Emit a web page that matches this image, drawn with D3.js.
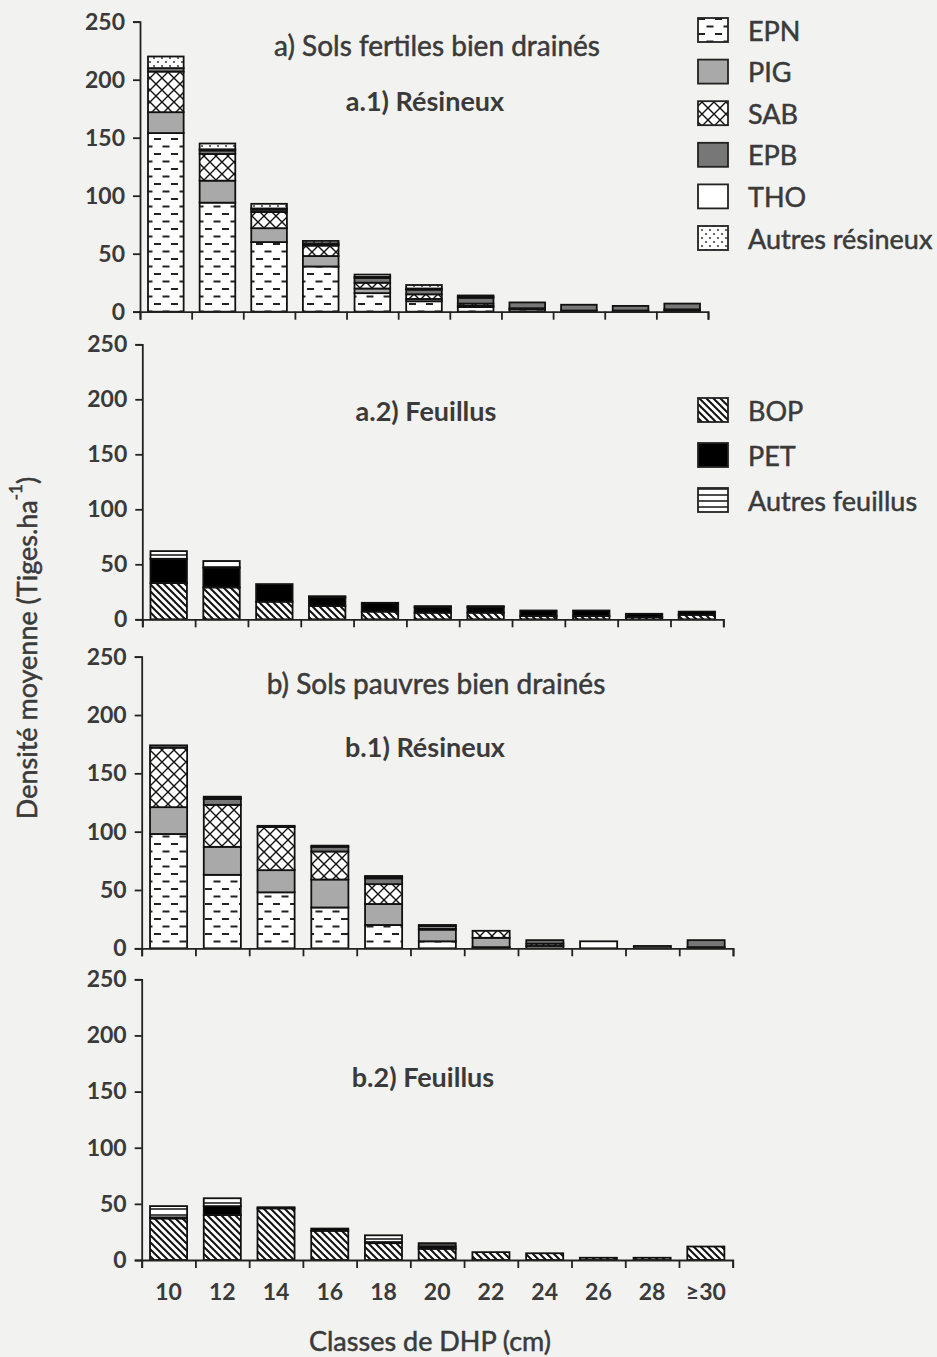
<!DOCTYPE html>
<html>
<head>
<meta charset="utf-8">
<script src="https://cdn.jsdelivr.net/npm/d3@7"></script>
<style>
  body { margin: 0; background: #f2f2f0; }
  svg text { font-family: Lato, "Open Sans", sans-serif; fill: #3a3a3a; }
  .thick { stroke: #3a3a3a; stroke-width: 0.5px; }
</style>
</head>
<body>
<svg id="chart" width="937" height="1357"></svg>
<script>
// DHP classes
var classes = ["10", "12", "14", "16", "18", "20", "22", "24", "26", "28", "≥30"];
var resineux = ["EPN", "PIG", "SAB", "EPB", "THO", "Autres résineux"];
var feuillus = ["BOP", "PET", "Autres feuillus"];
var yTicks = [0, 50, 100, 150, 200, 250];

// a.1) fertile, résineux
var a1_EPN = [154, 94, 60, 39, 16, 9, 4, 2, 1, 1, 1];
var a1_PIG = [18, 19, 12, 9, 4, 2, 1, 0, 0, 0, 0];
var a1_SAB = [35, 23, 14, 9, 5, 4, 2, 1, 0, 0, 1];
var a1_EPB = [3, 3, 2, 1, 4, 4, 5, 5, 5, 4, 5];
var a1_THO = [0, 1, 1, 1, 1, 1, 1, 0, 0, 0, 0];
var a1_AUT = [10, 5, 4, 2, 2, 3, 1, 0, 0, 0, 0];

// a.2) fertile, feuillus
var a2_BOP = [33, 29, 16, 12, 7, 6, 6, 3, 3, 2, 4];
var a2_PET = [22, 18, 16, 8, 8, 5, 5, 5, 5, 3, 3];
var a2_AUT = [7, 6, 0, 1, 0, 1, 1, 0, 0, 0, 0];

// b.1) pauvre, résineux
var b1_EPN = [98, 63, 48, 35, 20, 6, 1, 2, 0, 0, 0];
var b1_PIG = [23, 24, 19, 24, 18, 10, 8, 0, 0, 0, 1];
var b1_SAB = [51, 36, 37, 24, 17, 0, 6, 2, 0, 0, 0];
var b1_EPB = [2, 5, 1, 4, 5, 1, 0, 3, 0, 2, 6];
var b1_THO = [0, 1, 0, 0, 1, 2, 0, 0, 6, 0, 0];
var b1_AUT = [0, 1, 0, 1, 1, 1, 0, 0, 0, 0, 0];

// b.2) pauvre, feuillus
var b2_BOP = [37, 40, 46, 26, 15, 10, 7, 6, 2, 2, 12];
var b2_PET = [1, 8, 1, 2, 1, 2, 0, 0, 0, 0, 0];
var b2_AUT = [10, 7, 0, 0, 6, 3, 0, 0, 0, 0, 0];

var buildRows = function(keys, arrays) {
    return classes.map(function(c, i) {
        var row = {classe: c};
        keys.forEach(function(k, j) { row[k] = arrays[j][i]; });
        return row;
    });
}

var panels = [
    {keys: resineux, rows: buildRows(resineux, [a1_EPN, a1_PIG, a1_SAB, a1_EPB, a1_THO, a1_AUT]),
     left: 140, right: 708, top: 21.7, bottom: 311.7},
    {keys: feuillus, rows: buildRows(feuillus, [a2_BOP, a2_PET, a2_AUT]),
     left: 142.3, right: 723.3, top: 344.3, bottom: 619.3},
    {keys: resineux, rows: buildRows(resineux, [b1_EPN, b1_PIG, b1_SAB, b1_EPB, b1_THO, b1_AUT]),
     left: 141.7, right: 733, top: 656.7, bottom: 948.3},
    {keys: feuillus, rows: buildRows(feuillus, [b2_BOP, b2_PET, b2_AUT]),
     left: 141.7, right: 732.7, top: 979.3, bottom: 1260, xLabels: true}
];

var svg = d3.select("#chart");
svg.append("rect").attr("width", 937).attr("height", 1357).attr("fill", "#f2f2f0");

// fill patterns
var defs = svg.append("defs");
var pat = function(id, w, h) {
    var p = defs.append("pattern").attr("id", id).attr("patternUnits", "userSpaceOnUse")
        .attr("width", w).attr("height", h);
    p.append("rect").attr("width", w).attr("height", h).attr("fill", "#fff");
    return p;
}
var pEPN = pat("pEPN", 17, 15);
pEPN.append("rect").attr("x", 1).attr("y", 3).attr("width", 7).attr("height", 2).attr("fill", "#222");
pEPN.append("rect").attr("x", 9.5).attr("y", 10.5).attr("width", 7).attr("height", 2).attr("fill", "#222");
var pSAB = pat("pSAB", 12, 12);
pSAB.append("path").attr("d", "M0,0L12,12M12,0L0,12").attr("stroke", "#111").attr("stroke-width", 1.4);
var pDots = pat("pDots", 8, 8);
pDots.append("circle").attr("cx", 2).attr("cy", 2).attr("r", 0.9).attr("fill", "#222");
pDots.append("circle").attr("cx", 6).attr("cy", 6).attr("r", 0.9).attr("fill", "#222");
var pBOP = pat("pBOP", 7, 7);
pBOP.append("path").attr("d", "M0,0L7,7M-1,6L1,8M6,-1L8,1").attr("stroke", "#111").attr("stroke-width", 2);
var pHor = pat("pHor", 6, 6);
pHor.append("path").attr("d", "M0,3H6").attr("stroke", "#111").attr("stroke-width", 1.5);

var fills = {
    "EPN": "url(#pEPN)", "PIG": "#a9a9a9", "SAB": "url(#pSAB)", "EPB": "#777777",
    "THO": "#ffffff", "Autres résineux": "url(#pDots)",
    "BOP": "url(#pBOP)", "PET": "#000000", "Autres feuillus": "url(#pHor)"
};

panels.forEach(function(p) {
    var x = d3.scaleBand().domain(classes).range([p.left, p.right])
        .paddingInner(0.31).paddingOuter(0.155);
    var y = d3.scaleLinear().domain([0, 250]).range([p.bottom, p.top]);
    var g = svg.append("g");

    var stacked = d3.stack().keys(p.keys)(p.rows);
    g.selectAll(".serie").data(stacked).enter().append("g")
        .attr("fill", function(d) { return fills[d.key]; })
        .selectAll("rect").data(function(d) { return d.filter(function(v) { return v[1] > v[0]; }); })
        .enter().append("rect")
        .attr("x", function(d) { return x(d.data.classe); })
        .attr("width", x.bandwidth())
        .attr("y", function(d) { return y(d[1]); })
        .attr("height", function(d) { return y(d[0]) - y(d[1]); })
        .attr("stroke", "#111").attr("stroke-width", 1.8);

    // y axis
    var yAxis = g.append("g").attr("transform", "translate(" + p.left + ",0)")
        .call(d3.axisLeft(y).tickValues(yTicks).tickSize(7).tickPadding(8));
    yAxis.select(".domain").attr("stroke", "#222").attr("stroke-width", 1.8);
    yAxis.selectAll(".tick line").attr("stroke", "#222").attr("stroke-width", 1.8);
    yAxis.selectAll(".tick text").style("font-size", "23px").style("font-weight", "bold")
        .style("font-family", "Lato").attr("fill", "#3a3a3a");

    // x axis with ticks on the class boundaries
    var xb = d3.scaleLinear().domain([0, classes.length]).range([p.left, p.right]);
    var xAxis = g.append("g").attr("transform", "translate(0," + p.bottom + ")")
        .call(d3.axisBottom(xb).tickValues(d3.range(classes.length + 1)).tickSize(8).tickFormat(""));
    xAxis.select(".domain").attr("stroke", "#222").attr("stroke-width", 1.8);
    xAxis.selectAll(".tick line").attr("stroke", "#222").attr("stroke-width", 1.8);

    if (p.xLabels) {
        var lab = g.append("g").attr("transform", "translate(0," + p.bottom + ")")
            .call(d3.axisBottom(x).tickSize(0).tickPadding(24));
        lab.select(".domain").remove();
        lab.selectAll(".tick text").style("font-size", "23px").style("font-weight", "bold")
            .style("font-family", "Lato").attr("fill", "#3a3a3a");
    }
});

// titles
var title = function(txt, cx, cy, bold) {
    svg.append("text").attr("x", cx).attr("y", cy).attr("text-anchor", "middle")
        .attr("dominant-baseline", "central").attr("class", bold ? null : "thick")
        .style("font-size", bold ? "27px" : "28px").style("font-weight", bold ? "bold" : "normal").text(txt);
}
title("a) Sols fertiles bien drainés", 437, 45, false);
title("a.1) Résineux", 425, 100, true);
title("a.2) Feuillus", 426, 410, true);
title("b) Sols pauvres bien drainés", 436, 683, false);
title("b.1) Résineux", 425, 746, true);
title("b.2) Feuillus", 423, 1076, true);

// legends
var legend = function(keys, y0, step) {
    var lg = svg.append("g");
    keys.forEach(function(k, i) {
        var cy = y0 + i * step;
        lg.append("rect").attr("x", 698).attr("y", cy - 12).attr("width", 30).attr("height", 24)
            .attr("fill", fills[k]).attr("stroke", "#222").attr("stroke-width", 1.8);
        lg.append("text").attr("x", 748).attr("y", cy).attr("dominant-baseline", "central")
            .attr("class", "thick").style("font-size", "27px").text(k);
    });
}
legend(resineux, 30, 41.6);
legend(feuillus, 410, 45);

// axis titles
var yl = svg.append("text").attr("transform", "translate(26,648) rotate(-90)")
    .attr("text-anchor", "middle").attr("dominant-baseline", "central")
    .attr("class", "thick").style("font-size", "27px");
yl.append("tspan").text("Densité moyenne (Tiges.ha");
yl.append("tspan").attr("baseline-shift", "super").style("font-size", "17px").text("-1");
yl.append("tspan").text(")");

svg.append("text").attr("x", 430).attr("y", 1340).attr("text-anchor", "middle")
    .attr("dominant-baseline", "central").attr("class", "thick")
    .style("font-size", "27px").text("Classes de DHP (cm)");
</script>
</body>
</html>
